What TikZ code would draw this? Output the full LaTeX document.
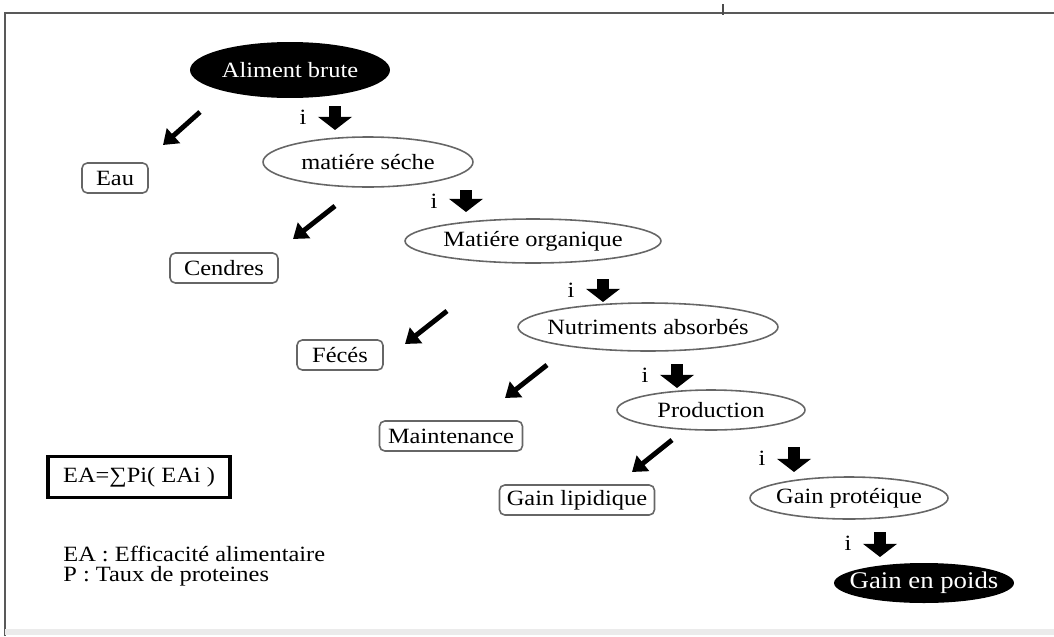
\documentclass[tikz,border=0pt]{standalone}
\usepackage{fontspec}
\setmainfont{Liberation Serif}[FakeStretch=1.12]
\usetikzlibrary{shapes.geometric,arrows.meta}

\colorlet{frame edge}{black!65}
\colorlet{stage edge}{black!60}
\tikzset{
  stage/.style={draw=stage edge, line width=0.9pt},
  loss/.style={rectangle, rounded corners=3pt, draw=stage edge, line width=0.9pt, minimum height=0.6cm, inner sep=0pt},
  formula/.style={rectangle, draw, line width=2pt, minimum width=3.64cm, minimum height=0.82cm, inner sep=0pt}
  }
\tikzstyle{frame} = [draw=frame edge, line width=1.5pt]
\tikzstyle{loss arrow} = [draw, line width=2.8pt, -{Triangle[length=8pt,width=11pt]}]
\tikzstyle{gain arrow} = [draw, line width=6.5pt, -{Triangle[length=7.5pt,width=19pt]}]

\begin{document}
\begin{tikzpicture}[x=0.02cm, y=-0.02cm, font=\fontsize{12.4}{14}\selectfont]
    \useasboundingbox (0,0) rectangle (1054,636);

    % the frame round the page
    \path[frame] (5,636) -- (5,13) -- (1054,13);
    \draw[black!8, line width=3pt] (5,632) -- (1054,632);
    \coordinate (tick top) at (723,4);
    \coordinate (tick bottom) at (723,15);
    \draw[black!70, line width=0.6pt] (tick top) -- (tick bottom);

    % first and last stage
    \foreach \pos/\name/\rx/\ry/\txt in {{(290,70)/ab/2/0.56/Aliment brute}, {(924,583)/gep/1.8/0.4/\fontsize{13.6}{15}\selectfont Gain en poids}} {
      \fill \pos ellipse [x radius=\rx cm, y radius=\ry cm];
      \node[text=white] (\name) at \pos {\txt};
    }

    % the stages in between
    \foreach \pos/\name/\rx/\ry/\txt in {{(368,162)/ms/2.1/0.5/matiére séche}, {(533,241)/mo/2.56/0.44/Matiére organique}, {(648,327)/na/2.6/0.48/Nutriments absorbés}, {(711,410)/pr/1.88/0.4/Production}, {(849,498)/gp/1.98/0.42/Gain protéique}} {
      \draw[stage] \pos ellipse [x radius=\rx cm, y radius=\ry cm];
      \node (\name) at \pos {\txt};
    }

    % what is lost at each step
    \foreach \pos/\name/\w/\txt in {{(115,178)/eau/1.32/Eau}, {(224,268)/cendres/2.16/Cendres}, {(340,355)/feces/1.72/Fécés}, {(451,436)/maint/2.86/Maintenance}, {(577,500)/lipid/3.1/Gain lipidique}} {
      \node[loss, minimum width=\w cm] (\name) at \pos {\txt};
    }

    % the arrows to the losses
    \foreach \n/\xa/\ya/\xb/\yb in {1/200/112/163/145, 2/335/206/293/239, 3/447/311/405/344, 4/547/365/505/398, 5/672/440/632/472} {
      \coordinate (loss \n a) at (\xa,\ya);
      \coordinate (loss \n b) at (\xb,\yb);
      \path[loss arrow] (loss \n a) -- (loss \n b);
    }

    % the arrows down the chain
    \foreach \n/\x/\ya/\yb in {1/335/106/130, 2/466/190/212, 3/603/279/302, 4/677/364/388, 5/794/447/472, 6/880/532/557} {
      \coordinate (gain \n a) at (\x,\ya);
      \coordinate (gain \n b) at (\x,\yb);
      \path[gain arrow] (gain \n a) -- (gain \n b);
      \node[inner sep=0pt] (i\n) at (\x-32,\ya+11) {i};
    }

    % formula and legend
    \node[formula] (ea) at (139,477) {EA=∑Pi( EAi )};
    \node[anchor=west, inner sep=0pt] (legend ea) at (63,554) {EA : Efficacité alimentaire};
    \node[anchor=west, inner sep=0pt] (legend p) at (63,576) {P : Taux de proteines};
\end{tikzpicture}
\end{document}
